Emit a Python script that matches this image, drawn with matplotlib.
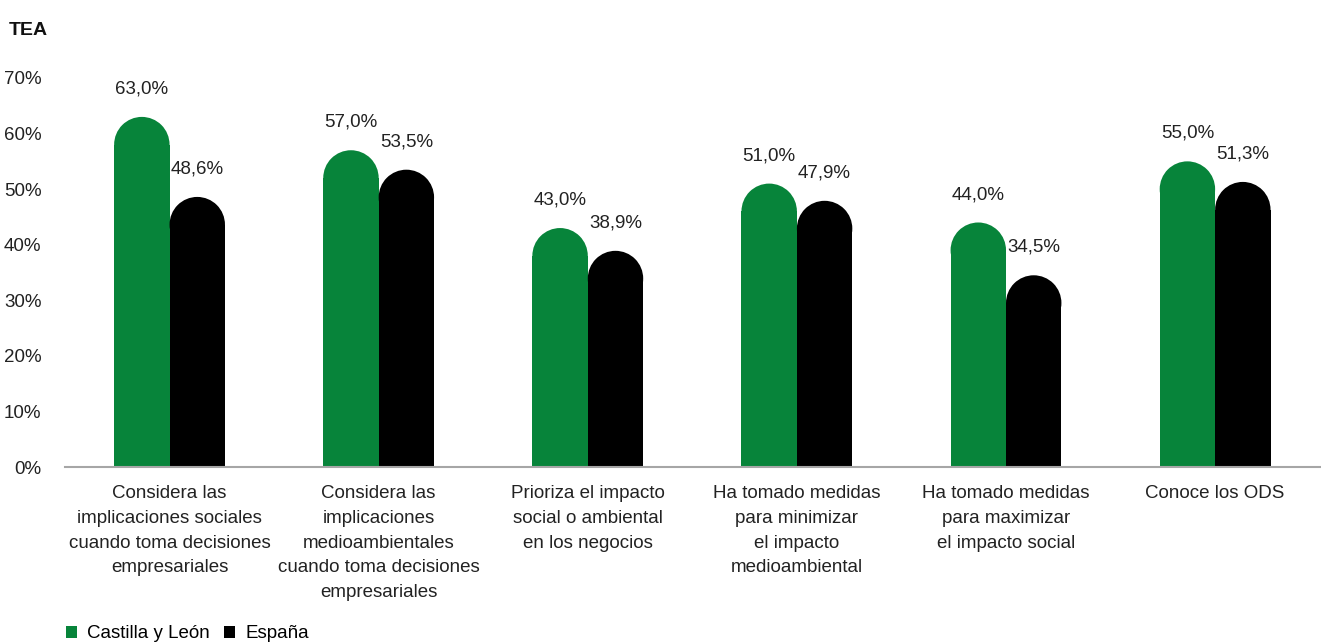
import matplotlib
matplotlib.use("Agg")
import matplotlib.pyplot as plt
from matplotlib.patches import Ellipse, Rectangle
from matplotlib.ticker import FuncFormatter

plt.rcParams['font.family'] = ['Liberation Sans', 'DejaVu Sans']

categorias = [
    "Considera las\nimplicaciones sociales\ncuando toma decisiones\nempresariales",
    "Considera las\nimplicaciones\nmedioambientales\ncuando toma decisiones\nempresariales",
    "Prioriza el impacto\nsocial o ambiental\nen los negocios",
    "Ha tomado medidas\npara minimizar\nel impacto\nmedioambiental",
    "Ha tomado medidas\npara maximizar\nel impacto social",
    "Conoce los ODS",
]
castilla = [63.0, 57.0, 43.0, 51.0, 44.0, 55.0]
espana = [48.6, 53.5, 38.9, 47.9, 34.5, 51.3]
series = [("Castilla y León", castilla, "#07843a"), ("España", espana, "#000000")]

fs = 13.5
fig = plt.figure(figsize=(13.21, 6.43), dpi=100)
ax = fig.add_axes([0.0492, 0.2737, 0.9498, 0.605])
ax.set_xlim(-0.5, len(categorias) - 0.5)
ax.set_ylim(0, 70)

w = 0.265
fig.canvas.draw()
# radio del remate redondeado en unidades de datos
px_x = ax.transData.transform((1, 0))[0] - ax.transData.transform((0, 0))[0]
px_y = ax.transData.transform((0, 1))[1] - ax.transData.transform((0, 0))[1]
r_px = w * px_x / 2
ry = r_px / px_y

for k, (nombre, vals, color) in enumerate(series):
    off = (k - 0.5) * w
    for i, v in enumerate(vals):
        x = i + off
        ax.add_patch(Rectangle((x - w / 2, 0), w, v - ry, facecolor=color,
                               edgecolor='none'))
        ax.add_patch(Ellipse((x, v - ry), w, 2 * ry, facecolor=color,
                             edgecolor='none'))
        ax.annotate(f"{v:.1f}".replace('.', ',') + "%", (x, v),
                    xytext=(0, 14), textcoords='offset points',
                    ha='center', va='bottom', fontsize=fs, color='#222222')
    ax.bar([0], [0], color=color, label=nombre)

ax.set_xticks(range(len(categorias)))
ax.set_xticklabels(categorias, fontsize=fs, color='#222222', linespacing=1.6)
ax.set_yticks(range(0, 71, 10))
ax.yaxis.set_major_formatter(FuncFormatter(lambda v, p: f"{v:.0f}%"))
ax.tick_params(axis='y', length=0, pad=17, labelsize=fs, labelcolor='#222222')
ax.tick_params(axis='x', length=0, pad=13)

for s in ['top', 'right', 'left']:
    ax.spines[s].set_visible(False)
ax.spines['bottom'].set_color('#a6a6a6')
ax.spines['bottom'].set_linewidth(1.5)

fig.text(0.007, 0.953, "TEA", fontsize=14, fontweight='heavy', color='#111111',
         va='center')

fig.legend(loc='lower left', bbox_to_anchor=(0.037, -0.025), ncol=2, frameon=False,
           fontsize=fs, handlelength=0.6, handleheight=0.6, handletextpad=0.55,
           columnspacing=0.75)

fig.savefig("out.png", dpi=100)
